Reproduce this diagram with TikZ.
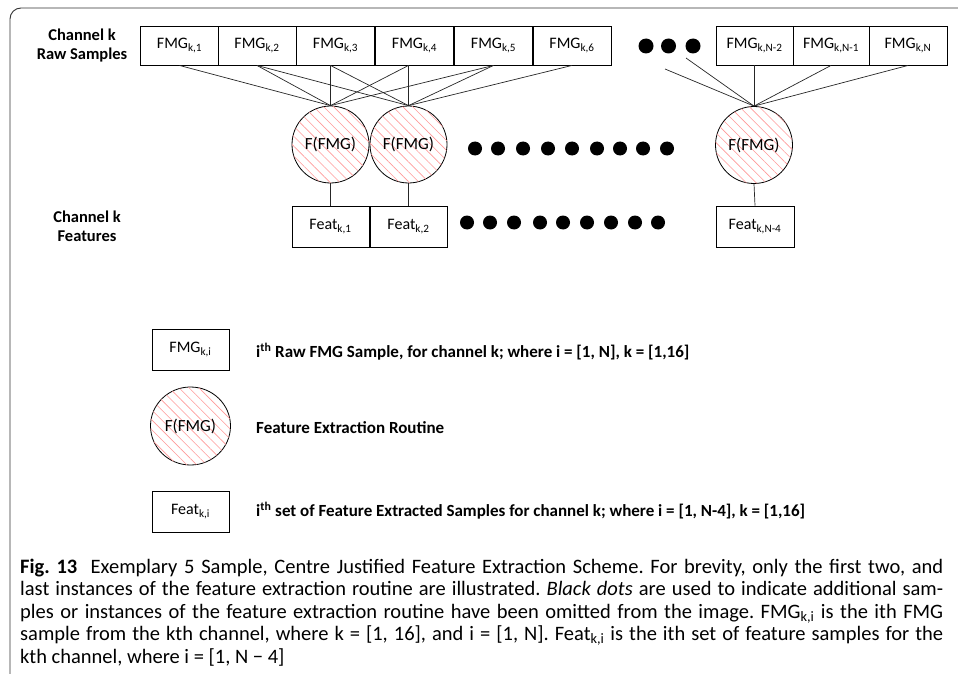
\documentclass[tikz,border=0pt]{standalone}
\usepackage{fontspec}
\setmainfont{Carlito}
\usetikzlibrary{patterns.meta,shapes.geometric}
\begin{document}
\frenchspacing
\begin{tikzpicture}[x=1pt,y=-1pt,
  sbox/.style={draw=black,line width=0.9pt,minimum width=78pt,minimum height=39pt,inner sep=0pt,
    font=\fontsize{16}{18}\selectfont},
  fbox/.style={sbox,minimum width=77pt,minimum height=41pt},
  hatch/.style={fill=white,
    postaction={pattern={Lines[angle=-45,distance=7pt,line width=0.6pt]},pattern color=red!40}},
  fcirc/.style={circle,draw=black,line width=0.8pt,minimum size=77pt,inner sep=0pt,hatch,
    font=\fontsize{17}{19}\selectfont},
  conn/.style={line width=0.7pt,draw=black!85},
  bdot/.style={circle,fill=black,inner sep=0pt,minimum size=15pt},
  mdot/.style={circle,fill=black,inner sep=0pt,minimum size=14pt},
  lbl/.style={align=center,font=\bfseries\fontsize{16.5}{19}\selectfont},
  legtxt/.style={anchor=west,inner sep=0pt,font=\bfseries\fontsize{17}{19}\selectfont},
  captxt/.style={anchor=base west,inner sep=0pt,font=\fontsize{20.5}{22}\selectfont}
]
\useasboundingbox (0,0) rectangle (958,674);
\draw[line width=0.9pt,draw=black!80,rounded corners=11pt] (958,8) -- (10,8) -- (10,674);

% labels
\node[lbl] (lraw) at (82,46) {Channel k\\Raw Samples};
\node[lbl] (lfeat) at (87,226) {Channel k\\Features};

% top boxes
\node[sbox] (b1) at (179.5,45.5) {FMG\textsubscript{k,1}};
\node[sbox] (b2) at (257,45.5) {FMG\textsubscript{k,2}};
\node[sbox] (b3) at (335.5,45.5) {FMG\textsubscript{k,3}};
\node[sbox] (b4) at (414.5,45.5) {FMG\textsubscript{k,4}};
\node[sbox] (b5) at (493.5,45.5) {FMG\textsubscript{k,5}};
\node[sbox] (b6) at (572,45.5) {FMG\textsubscript{k,6}};
\node[sbox,minimum width=77pt] (bn2) at (754.5,45.5) {FMG\textsubscript{k,N-2}};
\node[sbox,minimum width=76pt] (bn1) at (831,45.5) {FMG\textsubscript{k,N-1}};
\node[sbox] (bn) at (908,45.5) {FMG\textsubscript{k,N}};

\node[bdot] (t1) at (646,46) {};
\node[bdot] (t2) at (668.5,46) {};
\node[bdot] (t3) at (693,46) {};

% circles
\node[fcirc] (c1) at (330.5,144.5) {F(FMG)};
\node[fcirc] (c2) at (408.5,144.5) {F(FMG)};
\node[fcirc] (cn) at (754,145) {F(FMG)};

% feature boxes
\node[fbox] (f1) at (330.5,226.5) {Feat\textsubscript{k,1}};
\node[fbox] (f2) at (408.5,226.5) {Feat\textsubscript{k,2}};
\node[fbox,minimum width=78pt] (fn) at (755,226.5) {Feat\textsubscript{k,N-4}};

% dots rows
\foreach \x [count=\i] in {475,498,523,548,572,597,620,643,667}
  \node[mdot] (m\i) at (\x,148.5) {};
\foreach \x [count=\i] in {467,490,514,540,563,587,611,635,658}
  \node[mdot] (n\i) at (\x,222.5) {};

% free ends from omitted samples
\coordinate (e1) at (665,69);
\coordinate (e2) at (686,58);

% connectors
\draw[conn] (c1.north) -- (b1.south);
\draw[conn] (c1.north) -- (b2.south);
\draw[conn] (c1.north) -- (c1.north |- b3.south);
\draw[conn] (c1.north) -- (c2.north |- b4.south);
\draw[conn] (c1.north) -- (b5.south);
\draw[conn] (c2.north) -- (b2.south);
\draw[conn] (c2.north) -- (c1.north |- b3.south);
\draw[conn] (c2.north) -- (c2.north |- b4.south);
\draw[conn] (c2.north) -- (b5.south);
\draw[conn] (c2.north) -- (b6.south);
\draw[conn] (cn.north) -- (e1);
\draw[conn] (cn.north) -- (e2);
\draw[conn] (cn.north) -- (cn.north |- bn2.south);
\draw[conn] (cn.north) -- (bn1.south);
\draw[conn] (cn.north) -- (bn.south);
\draw[conn] (c1.south) -- (f1.north);
\draw[conn] (c2.south) -- (f2.north);
\draw[conn] (cn.south) -- (fn.north);

% legend
\node[sbox,minimum width=77pt,minimum height=41pt] (k1) at (190.5,349.5) {FMG\textsubscript{k,i}};
\node[ellipse,draw=black,line width=0.8pt,minimum width=80pt,minimum height=78pt,inner sep=0pt,hatch,
  font=\fontsize{17}{19}\selectfont] (k2) at (190.5,426) {F(FMG)};
\node[fbox] (k3) at (190.5,511.5) {Feat\textsubscript{k,i}};
\node[legtxt] (t1l) at (256,352) {i\textsuperscript{th} Raw FMG Sample, for channel k; where i = [1, N], k = [1,16]};
\node[legtxt] (t2l) at (256,428) {Feature Extraction Routine};
\node[legtxt] (t3l) at (256,511) {i\textsuperscript{th} set of Feature Extracted Samples for channel k; where i = [1, N-4], k = [1,16]};

% caption
\node[captxt] (cap1) at (20,573) {\makebox[923pt][s]{\textbf{Fig. 13}\ \ Exemplary 5 Sample, Centre Justified Feature Extraction Scheme. For brevity, only the first two, and}};
\node[captxt] (cap2) at (20,595.5) {\makebox[923pt][s]{last instances of the feature extraction routine are illustrated. \textit{Black dots} are used to indicate additional sam-}};
\node[captxt] (cap3) at (20,618) {\makebox[923pt][s]{ples or instances of the feature extraction routine have been omitted from the image. FMG\textsubscript{k,i} is the ith FMG}};
\node[captxt] (cap4) at (20,640.5) {\makebox[923pt][s]{sample from the kth channel, where k = [1, 16], and i = [1, N]. Feat\textsubscript{k,i} is the ith set of feature samples for the}};
\node[captxt] (cap5) at (20,663) {kth channel, where i = [1, N − 4]};
\end{tikzpicture}
\end{document}
